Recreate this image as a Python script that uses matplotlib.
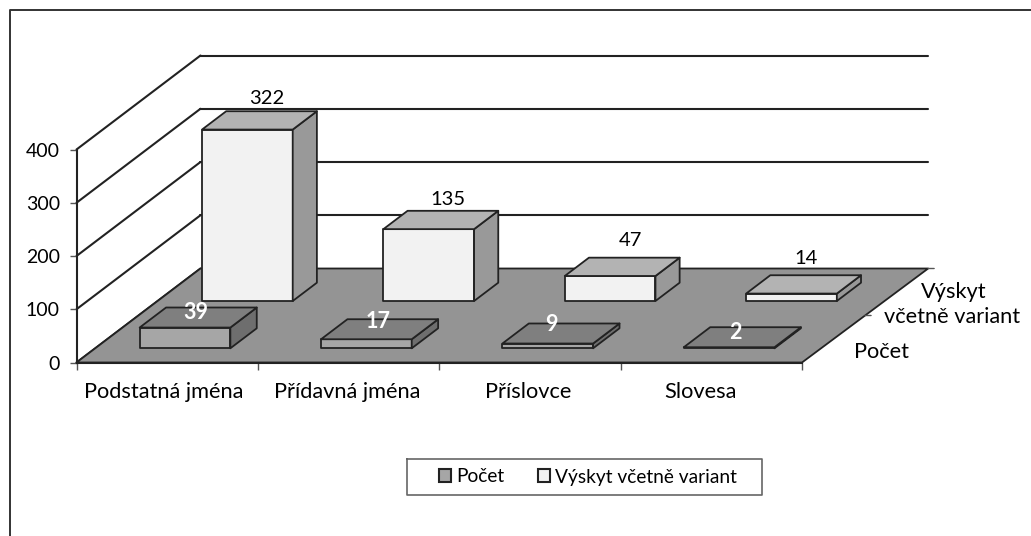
import numpy as np
import matplotlib
matplotlib.use('Agg')
import matplotlib.pyplot as plt
from matplotlib.patches import Patch, Polygon

plt.rcParams['font.family'] = ['Lato', 'DejaVu Sans']

categories = ['Podstatná jména', 'Přídavná jména', 'Příslovce', 'Slovesa']
pocet = [39, 17, 9, 2]
vyskyt = [322, 135, 47, 14]
yticks = [0, 100, 200, 300, 400]
series_names = ['Počet', 'Výskyt včetně variant']

W, H = 1031, 536
fig = plt.figure(figsize=(W/100, H/100), dpi=100)

#axes rectangle is the front plane of the chart, in pixels
left, right, top, bottom = 76.5, 802, 149.5, 362.5
ax = fig.add_axes([left/W, 1-bottom/H, (right-left)/W, (bottom-top)/H])
ax.set_xlim(0, 4)
ax.set_ylim(0, 400)
ax.patch.set_visible(False)

#oblique shift for depth 1, in category units and value units
depth_x = 124/181.4
depth_y = 94/0.5325
back_w = 4.012

def proj(x, v, d):
    return x + d*depth_x, v + d*depth_y

def face(points, color, z):
    pts = [proj(*p) for p in points]
    ax.add_patch(Polygon(pts, closed=True, facecolor=color, edgecolor='#222222',
                         lw=1.3, zorder=z, clip_on=False, joinstyle='round'))

def bar3d(x0, x1, d0, d1, v, front, upper, side, z):
    face([(x0, 0, d0), (x1, 0, d0), (x1, v, d0), (x0, v, d0)], front, z)
    face([(x1, 0, d0), (x1, 0, d1), (x1, v, d1), (x1, v, d0)], side, z)
    face([(x0, v, d0), (x1, v, d0), (x1, v, d1), (x0, v, d1)], upper, z)

#walls
line = dict(color='#222222', lw=1.5, zorder=1, clip_on=False, solid_capstyle='round')
for t in yticks:
    x0, y0 = proj(0, t, 1)
    x1, y1 = proj(back_w, t, 1)
    ax.plot([0, x0], [t, y0], **line)
    if t > 0:
        ax.plot([x0, x1], [y0, y1], **line)

#floor
face([(0, 0, 0), (4, 0, 0), (back_w, 0, 1), (0, 0, 1)], '#949494', 2)

#small ticks on the depth axis
for d in [0.5, 1]:
    x, y = proj(4 + (back_w-4)*d, 0, d)
    ax.annotate('', (x, y), xytext=(6, 0), textcoords='offset pixels', annotation_clip=False,
                arrowprops=dict(arrowstyle='-', color='#555555', lw=1, shrinkA=0, shrinkB=0))

#bars, back series first
width = 0.5
d_vyskyt = (0.654, 0.849)
d_pocet = (0.151, 0.364)
for i, v in enumerate(vyskyt):
    bar3d(i+0.245, i+0.245+width, d_vyskyt[0], d_vyskyt[1], v, '#f2f2f2', '#b3b3b3', '#999999', 3)
for i, v in enumerate(pocet):
    bar3d(i+0.245, i+0.245+width, d_pocet[0], d_pocet[1], v, '#a6a6a6', '#7f7f7f', '#6e6e6e', 4)

#value labels
fs = 15.7
fs_num = 14.5
off_v = [(-6, 13), (-6, 11), (-5, 17), (-11, 17)]
for i, v in enumerate(vyskyt):
    x, y = proj(i+0.5, v, d_vyskyt[1])
    ax.annotate(str(v), (x, y), xytext=off_v[i], textcoords='offset pixels', ha='center',
                va='center', fontsize=fs_num, color='black', zorder=6, annotation_clip=False)
off_p = [(-9, 1), (-8, 4), (-16, 5), (-13, 1)]
for i, v in enumerate(pocet):
    x, y = proj(i+0.5, v, 0.30)
    ax.annotate(str(v), (x, y), xytext=off_p[i], textcoords='offset pixels', ha='center',
                va='center', fontsize=fs_num+1, fontweight='bold', color='white', zorder=6,
                annotation_clip=False)

#axes
for s in ['top', 'right']:
    ax.spines[s].set_visible(False)
for s in ['left', 'bottom']:
    ax.spines[s].set_linewidth(1.5)
    ax.spines[s].set_color('#222222')
    ax.spines[s].set_zorder(5)
ax.set_yticks(yticks)
ax.set_xticks(range(5))
ax.set_xticklabels([])
ax.tick_params(axis='both', length=5, width=1, color='#555555', labelsize=14, pad=7)
ax.set_xticks([0.48, 1.49, 2.49, 3.44], categories, minor=True)
ax.tick_params(axis='x', which='minor', length=0, pad=14, labelsize=fs)

#depth axis labels
depth_labels = [('Výskyt', 954, 292), ('včetně variant', 952, 317), ('Počet', 882, 352)]
for s, px, py in depth_labels:
    fig.text(px/W, 1-py/H, s, ha='center', va='center', fontsize=fs)

#chart frame, only top and left edges show
fig.add_artist(plt.Line2D([9.5/W, 9.5/W, 1], [0, 1-9.5/H, 1-9.5/H], color='#333333', lw=1.4))

#legend
lx0, lx1, ly0, ly1 = 407, 762, 459, 495
fig.add_artist(plt.Line2D(np.array([lx0, lx1, lx1, lx0, lx0])/W, 1-np.array([ly0, ly0, ly1, ly1, ly0])/H,
                          color='#666666', lw=1.2))
handles = [Patch(facecolor='#a6a6a6', edgecolor='#222222', lw=1.5),
           Patch(facecolor='#f2f2f2', edgecolor='#222222', lw=1.5)]
fig.legend(handles, series_names, loc='center', bbox_to_anchor=(588/W, 1-477/H), ncols=2,
           frameon=False, fontsize=13.8, handlelength=0.65, handleheight=0.65,
           handletextpad=0.25, columnspacing=1.75)

fig.savefig('out.png', dpi=100)
